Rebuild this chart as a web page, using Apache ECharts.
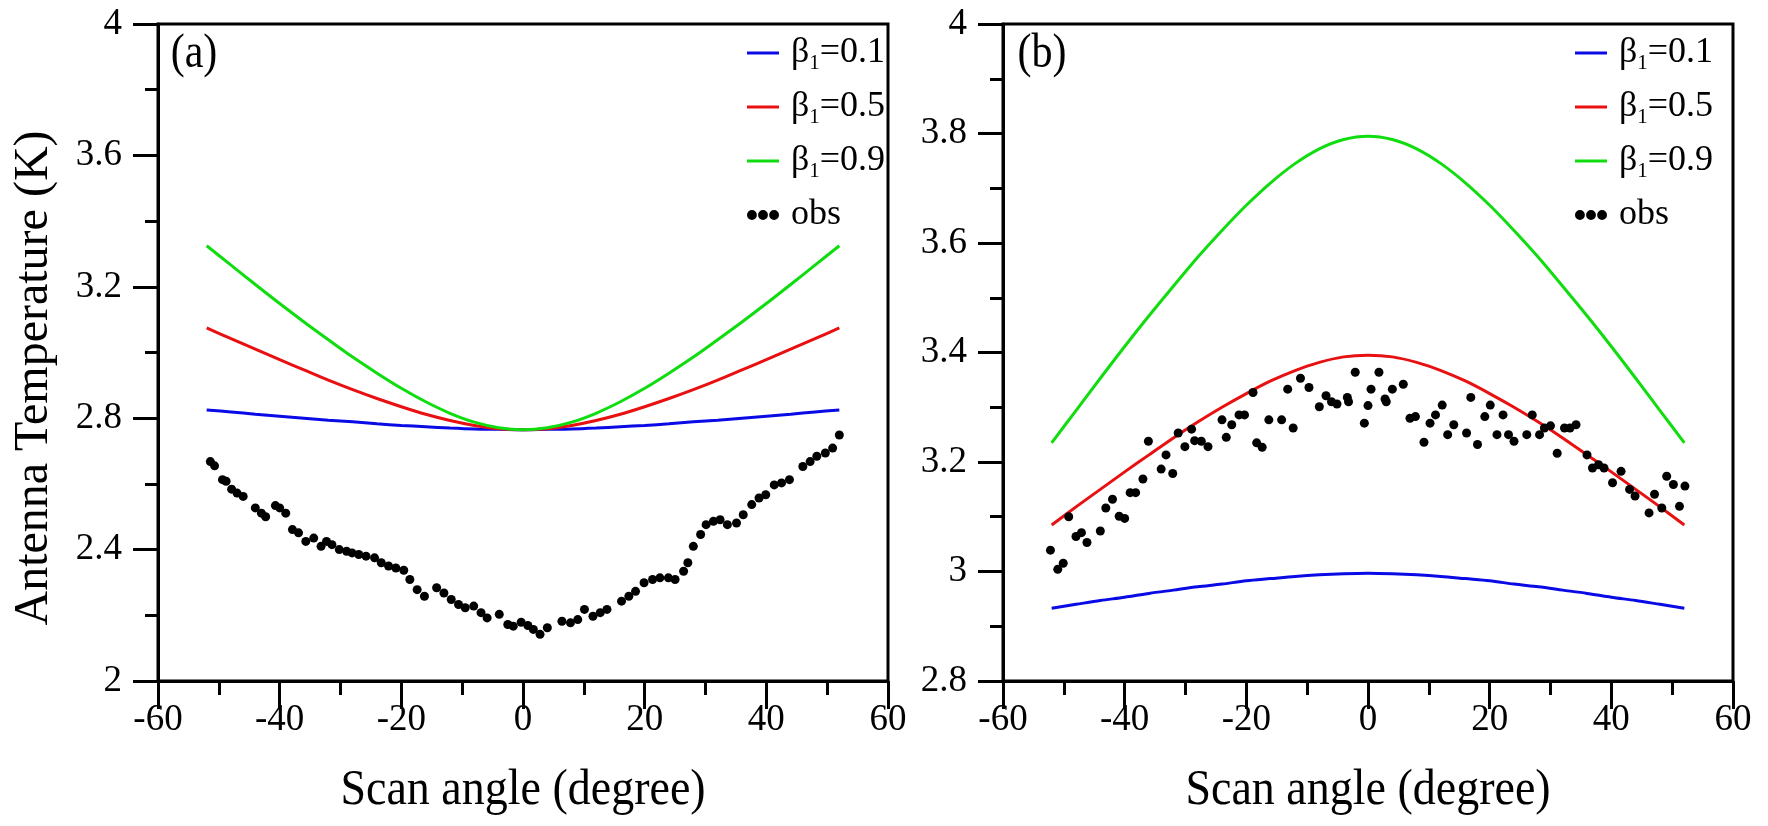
<!DOCTYPE html>
<html>
<head>
<meta charset="utf-8">
<script src="https://cdn.jsdelivr.net/npm/echarts@6/dist/echarts.min.js"></script>
<style>
html,body{margin:0;padding:0;background:#fff;}
#chart{width:1768px;height:826px;}
</style>
</head>
<body>
<div id="chart"></div>
<script>
// ---------- data ----------
const seriesNames = ['β1=0.1', 'β1=0.5', 'β1=0.9', 'obs'];
const xTicks = [-60, -40, -20, 0, 20, 40, 60];

const curveAngles = [-52,-48,-44,-40,-36,-32,-28,-24,-20,-16,-12,-8,-4,0,4,8,12,16,20,24,28,32,36,40,44,48,52];

// panel (a)
const aBlue  = [2.825,2.819,2.812,2.806,2.800,2.794,2.789,2.783,2.778,2.774,2.770,2.767,2.766,2.765,2.766,2.767,2.770,2.774,2.778,2.783,2.789,2.794,2.800,2.806,2.812,2.819,2.825];
const aRed   = [3.075,3.042,3.010,2.978,2.947,2.916,2.887,2.860,2.835,2.812,2.793,2.778,2.768,2.765,2.768,2.778,2.793,2.812,2.835,2.860,2.887,2.916,2.947,2.978,3.010,3.042,3.075];
const aGreen = [3.325,3.266,3.207,3.149,3.093,3.039,2.986,2.937,2.891,2.850,2.815,2.788,2.771,2.765,2.771,2.788,2.815,2.850,2.891,2.937,2.986,3.039,3.093,3.149,3.207,3.266,3.325];

const obsAx = [-51.4,-50.7,-49.4,-48.8,-47.9,-47.0,-46.0,-44.0,-43.0,-42.3,-40.7,-40.0,-39.0,-37.9,-36.9,-35.7,-34.4,-33.2,-32.3,-31.4,-30.2,-29.0,-28.1,-27.0,-25.8,-24.4,-23.3,-22.1,-20.9,-19.6,-18.6,-17.4,-16.2,-14.2,-13.0,-11.8,-10.6,-9.5,-8.1,-6.9,-5.9,-3.9,-2.5,-1.6,-0.3,0.8,1.7,2.8,4.0,6.4,7.8,9.0,10.1,11.5,12.7,13.8,16.2,17.4,18.5,19.9,21.3,22.5,23.9,25.0,26.4,27.1,28.0,29.2,30.1,31.3,32.4,33.6,35.1,36.2,37.6,38.8,39.9,41.3,42.5,43.8,46.0,47.2,48.3,49.7,50.9,52.0];
const obsAy = [2.668,2.655,2.613,2.608,2.584,2.572,2.562,2.527,2.511,2.500,2.534,2.527,2.511,2.461,2.451,2.425,2.435,2.410,2.425,2.415,2.400,2.395,2.390,2.385,2.380,2.375,2.360,2.350,2.344,2.337,2.309,2.278,2.258,2.284,2.268,2.248,2.233,2.223,2.228,2.208,2.192,2.203,2.172,2.167,2.179,2.169,2.157,2.142,2.162,2.182,2.177,2.187,2.218,2.197,2.208,2.218,2.243,2.258,2.273,2.299,2.309,2.314,2.314,2.309,2.334,2.360,2.410,2.446,2.476,2.486,2.491,2.476,2.481,2.506,2.537,2.557,2.567,2.597,2.603,2.613,2.653,2.668,2.684,2.694,2.709,2.749];

// panel (b)
const bBlue  = [2.933,2.940,2.947,2.953,2.960,2.966,2.972,2.977,2.983,2.987,2.991,2.994,2.996,2.997,2.996,2.994,2.991,2.987,2.983,2.977,2.972,2.966,2.960,2.953,2.947,2.940,2.933];
const bRed   = [3.085,3.118,3.150,3.182,3.213,3.244,3.273,3.300,3.325,3.348,3.367,3.382,3.392,3.395,3.392,3.382,3.367,3.348,3.325,3.300,3.273,3.244,3.213,3.182,3.150,3.118,3.085];
const bGreen = [3.235,3.294,3.353,3.411,3.467,3.521,3.574,3.623,3.669,3.710,3.745,3.772,3.789,3.795,3.789,3.772,3.745,3.710,3.669,3.623,3.574,3.521,3.467,3.411,3.353,3.294,3.235];

const obsBx = [-52.2,-51.0,-50.1,-49.2,-48.0,-47.1,-46.2,-44.0,-43.1,-42.0,-40.9,-40.0,-39.1,-38.2,-37.0,-36.1,-34.0,-33.2,-32.1,-31.2,-30.1,-29.0,-28.5,-27.4,-26.3,-24.0,-23.3,-22.4,-21.2,-20.3,-18.9,-18.3,-17.4,-16.3,-14.2,-13.2,-12.3,-11.1,-9.7,-8.0,-6.9,-6.0,-5.1,-3.4,-3.2,-2.1,-0.6,0.0,0.5,1.8,2.8,3.0,4.0,5.8,6.9,7.8,9.2,10.2,11.1,12.2,13.1,14.1,16.2,16.9,18.0,19.2,20.1,21.2,22.2,23.1,24.0,26.1,27.0,28.2,29.0,30.0,31.1,32.3,33.2,34.2,36.0,36.9,37.9,38.8,40.2,41.6,43.0,43.9,46.2,47.1,48.3,49.1,50.2,51.2,52.1];
const obsBy = [3.039,3.004,3.015,3.100,3.064,3.071,3.053,3.074,3.116,3.132,3.101,3.097,3.144,3.144,3.169,3.238,3.187,3.213,3.179,3.253,3.228,3.260,3.239,3.238,3.228,3.277,3.245,3.268,3.286,3.286,3.327,3.235,3.227,3.277,3.277,3.333,3.262,3.353,3.336,3.301,3.321,3.310,3.306,3.318,3.310,3.364,3.271,3.303,3.333,3.364,3.315,3.310,3.333,3.342,3.280,3.283,3.236,3.271,3.286,3.304,3.250,3.268,3.253,3.318,3.232,3.283,3.304,3.250,3.286,3.250,3.238,3.250,3.286,3.250,3.262,3.266,3.216,3.262,3.262,3.268,3.213,3.189,3.195,3.189,3.162,3.183,3.150,3.138,3.107,3.141,3.116,3.174,3.159,3.119,3.156];

// ---------- helpers ----------
const FONT = '"Liberation Serif", "Times New Roman", serif';
const colors = {blue: '#0a0ae6', red: '#e81010', green: '#10dd10'};
const pairs = (xs, ys) => xs.map((x, i) => [x, ys[i]]);

const chart = echarts.init(document.getElementById('chart'), null, {renderer: 'canvas'});

function xAxisDef(gi) {
  return {
    type: 'value', gridIndex: gi, min: xTicks[0], max: xTicks[xTicks.length - 1], interval: 20,
    axisLine: {show: true, onZero: false, lineStyle: {color: '#000', width: 3}},
    axisTick: {show: true, length: 28, lineStyle: {color: '#000', width: 3}},
    minorTick: {show: true, splitNumber: 2, length: 14, lineStyle: {color: '#000', width: 3}},
    axisLabel: {color: '#000', fontFamily: FONT, fontSize: 37, margin: 21},
    splitLine: {show: false}, minorSplitLine: {show: false}
  };
}
function yAxisDef(gi, min, max, interval) {
  return {
    type: 'value', gridIndex: gi, min: min, max: max, interval: interval,
    axisLine: {show: true, onZero: false, lineStyle: {color: '#000', width: 3}},
    axisTick: {show: true, length: 25, lineStyle: {color: '#000', width: 3}},
    minorTick: {show: true, splitNumber: 2, length: 13, lineStyle: {color: '#000', width: 3}},
    axisLabel: {color: '#000', fontFamily: FONT, fontSize: 37, margin: 36},
    splitLine: {show: false}, minorSplitLine: {show: false}
  };
}
function lineSeries(name, gi, ys, color) {
  return {
    name: name, type: 'line', xAxisIndex: gi, yAxisIndex: gi,
    data: pairs(curveAngles, ys), showSymbol: false, smooth: 0.3,
    lineStyle: {color: color, width: 3}, itemStyle: {color: color},
    emphasis: {disabled: true}, z: 3
  };
}
function obsSeries(gi, xs, ys) {
  return {
    name: 'obs', type: 'scatter', xAxisIndex: gi, yAxisIndex: gi,
    data: pairs(xs, ys), symbol: 'circle', symbolSize: 9,
    itemStyle: {color: '#000', opacity: 1}, emphasis: {disabled: true}, z: 4
  };
}

const lineIcon = 'path://M0,0 L32,0 L32,3 L0,3 Z';
const dotsIcon = 'path://M0,4 a4,4 0 1,0 8,0 a4,4 0 1,0 -8,0 Z M9,4 a4,4 0 1,0 8,0 a4,4 0 1,0 -8,0 Z M18,4 a4,4 0 1,0 8,0 a4,4 0 1,0 -8,0 Z';

function legendDef(left) {
  return {
    orient: 'vertical', left: left, top: 27, itemWidth: 32, itemHeight: 10, itemGap: 12,
    data: [
      {name: seriesNames[0], icon: lineIcon},
      {name: seriesNames[1], icon: lineIcon},
      {name: seriesNames[2], icon: lineIcon},
      {name: seriesNames[3], icon: dotsIcon}
    ],
    selectedMode: false,
    formatter: function (name) {
      if (name === 'obs') return '{t|obs}';
      const v = name.split('=')[1];
      return '{t|β}{s|1}{u|=' + v + '}';
    },
    textStyle: {
      color: '#000', fontFamily: FONT, fontSize: 36, lineHeight: 42,
      rich: {
        t: {fontFamily: FONT, fontSize: 36, color: '#000', padding: [0, 0, 0, 7]},
        u: {fontFamily: FONT, fontSize: 36, color: '#000'},
        s: {fontFamily: FONT, fontSize: 21, color: '#000', verticalAlign: 'bottom', lineHeight: 42}
      }
    }
  };
}

const option = {
  backgroundColor: '#fff',
  animation: false,
  grid: [
    {left: 158, top: 24, width: 730, height: 657, show: true, borderColor: '#000', borderWidth: 3, backgroundColor: 'transparent'},
    {left: 1003, top: 24, width: 730, height: 657, show: true, borderColor: '#000', borderWidth: 3, backgroundColor: 'transparent'}
  ],
  xAxis: [xAxisDef(0), xAxisDef(1)],
  yAxis: [yAxisDef(0, 2, 4, 0.4), yAxisDef(1, 2.8, 4, 0.2)],
  legend: [legendDef(742), legendDef(1570)],
  series: [
    lineSeries(seriesNames[0], 0, aBlue, colors.blue),
    lineSeries(seriesNames[1], 0, aRed, colors.red),
    lineSeries(seriesNames[2], 0, aGreen, colors.green),
    obsSeries(0, obsAx, obsAy),
    lineSeries(seriesNames[0], 1, bBlue, colors.blue),
    lineSeries(seriesNames[1], 1, bRed, colors.red),
    lineSeries(seriesNames[2], 1, bGreen, colors.green),
    obsSeries(1, obsBx, obsBy)
  ],
  graphic: [
    {type: 'text', x: 194, y: 54, scaleY: 1.15,
     style: {text: '(a)', fontFamily: FONT, fontSize: 42, fill: '#000', align: 'center', verticalAlign: 'middle'}},
    {type: 'text', x: 1042, y: 54, scaleY: 1.15,
     style: {text: '(b)', fontFamily: FONT, fontSize: 42, fill: '#000', align: 'center', verticalAlign: 'middle'}},
    {type: 'text', x: 34, y: 378, rotation: Math.PI / 2,
     style: {text: 'Antenna Temperature (K)', fontFamily: FONT, fontSize: 48, fill: '#000', align: 'center', verticalAlign: 'middle'}},
    {type: 'text', x: 523, y: 790, scaleY: 1.12,
     style: {text: 'Scan angle (degree)', fontFamily: FONT, fontSize: 46, fill: '#000', align: 'center', verticalAlign: 'middle'}},
    {type: 'text', x: 1368, y: 790, scaleY: 1.12,
     style: {text: 'Scan angle (degree)', fontFamily: FONT, fontSize: 46, fill: '#000', align: 'center', verticalAlign: 'middle'}}
  ]
};
chart.setOption(option);
</script>
</body>
</html>
